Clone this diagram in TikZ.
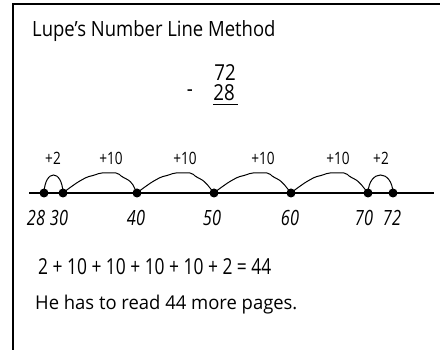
\documentclass[tikz,border=0pt]{standalone}
\usepackage{fontspec}
\setmainfont{Open Sans}
\usetikzlibrary{positioning}
\newcommand{\hand}[2]{\fontsize{#1}{#1}\selectfont\addfontfeature{FakeStretch=#2}}
\tikzset{circ/.style = {fill, circle, inner sep = 0, minimum size = 9}}
\tikzset{num/.style = {inner sep = 0, font = \itshape\hand{21}{0.78}}}
\tikzset{jump/.style = {inner sep = 0, font = \hand{17}{0.8}}}
\tikzset{hop/.style = {line width = 1pt, rounded corners = 2pt}}

\begin{document}
\begin{tikzpicture}[x=1pt,y=-1pt]
    \useasboundingbox (0,0) rectangle (440,350);
    \coordinate (corner) at (13,4);
    \draw[line width = 1.3pt] (13,350) -- (corner) -- (440,4);
    \node[anchor = west, inner sep = 0, font = \hand{21}{0.88}] (title) at (32,31) {Lupe's Number Line Method};
    \node[anchor = east, inner sep = 0, font = \hand{22}{0.85}] (top) at (236,73) {72};
    \node[anchor = east, inner sep = 0, font = \hand{22}{0.85}] (sub) at (235,93) {28};
    \node[left = 20pt of sub, inner sep = 0, font = \hand{22}{0.85}] (minus) {-};
    \draw[line width = 0.9pt] ([yshift=-3pt]sub.south west) -- ([yshift=-3pt,xshift=3pt]sub.south east);
    % number line
    \coordinate (left) at (29,193);
    \coordinate (right) at (434,193);
    \draw[line width = 1.1pt] (left) -- (right);
    \foreach \n/\x/\lx in {28/44/36, 30/63/59, 40/137/136, 50/214/212, 60/291/290, 70/368/364, 72/393/392} {
        \coordinate (p\n) at (\x,193);
        \node[num] (l\n) at (\lx,218) {\n};
    }
    % jumps of 2
    \foreach \a/\b in {28/30, 70/72} {
        \draw[hop] (p\a) .. controls +(1,-24) and +(-1,-24) .. (p\b);
    }
    % jumps of 10
    \foreach \a/\b in {30/40, 40/50, 50/60, 60/70} {
        \draw[hop] (p\a) -- +(5,-4) -- +(15,-11) -- +(24,-16) -- +(32,-18) -- +(37,-20)
            -- +(55,-20) -- +(59,-16) -- +(64,-14) -- +(69,-10) -- (p\b);
    }
    \node[jump] (j1) at (53,158) {+2};
    \node[jump] (j2) at (111,158) {+10};
    \node[jump] (j3) at (185,158) {+10};
    \node[jump] (j4) at (263,158) {+10};
    \node[jump] (j5) at (338,158) {+10};
    \node[jump] (j6) at (381,158) {+2};
    \foreach \n in {28, 30, 40, 50, 60, 70, 72} {
        \node[circ] (d\n) at (p\n) {}; % dot
    }
    \node[anchor = west, inner sep = 0, font = \hand{22}{0.79}] (sum) at (38,267) {2 + 10 + 10 + 10 + 10 + 2 = 44};
    \node[anchor = west, inner sep = 0, font = \hand{19}{0.97}] (answer) at (35,305) {He has to read 44 more pages.};
\end{tikzpicture}
\end{document}
